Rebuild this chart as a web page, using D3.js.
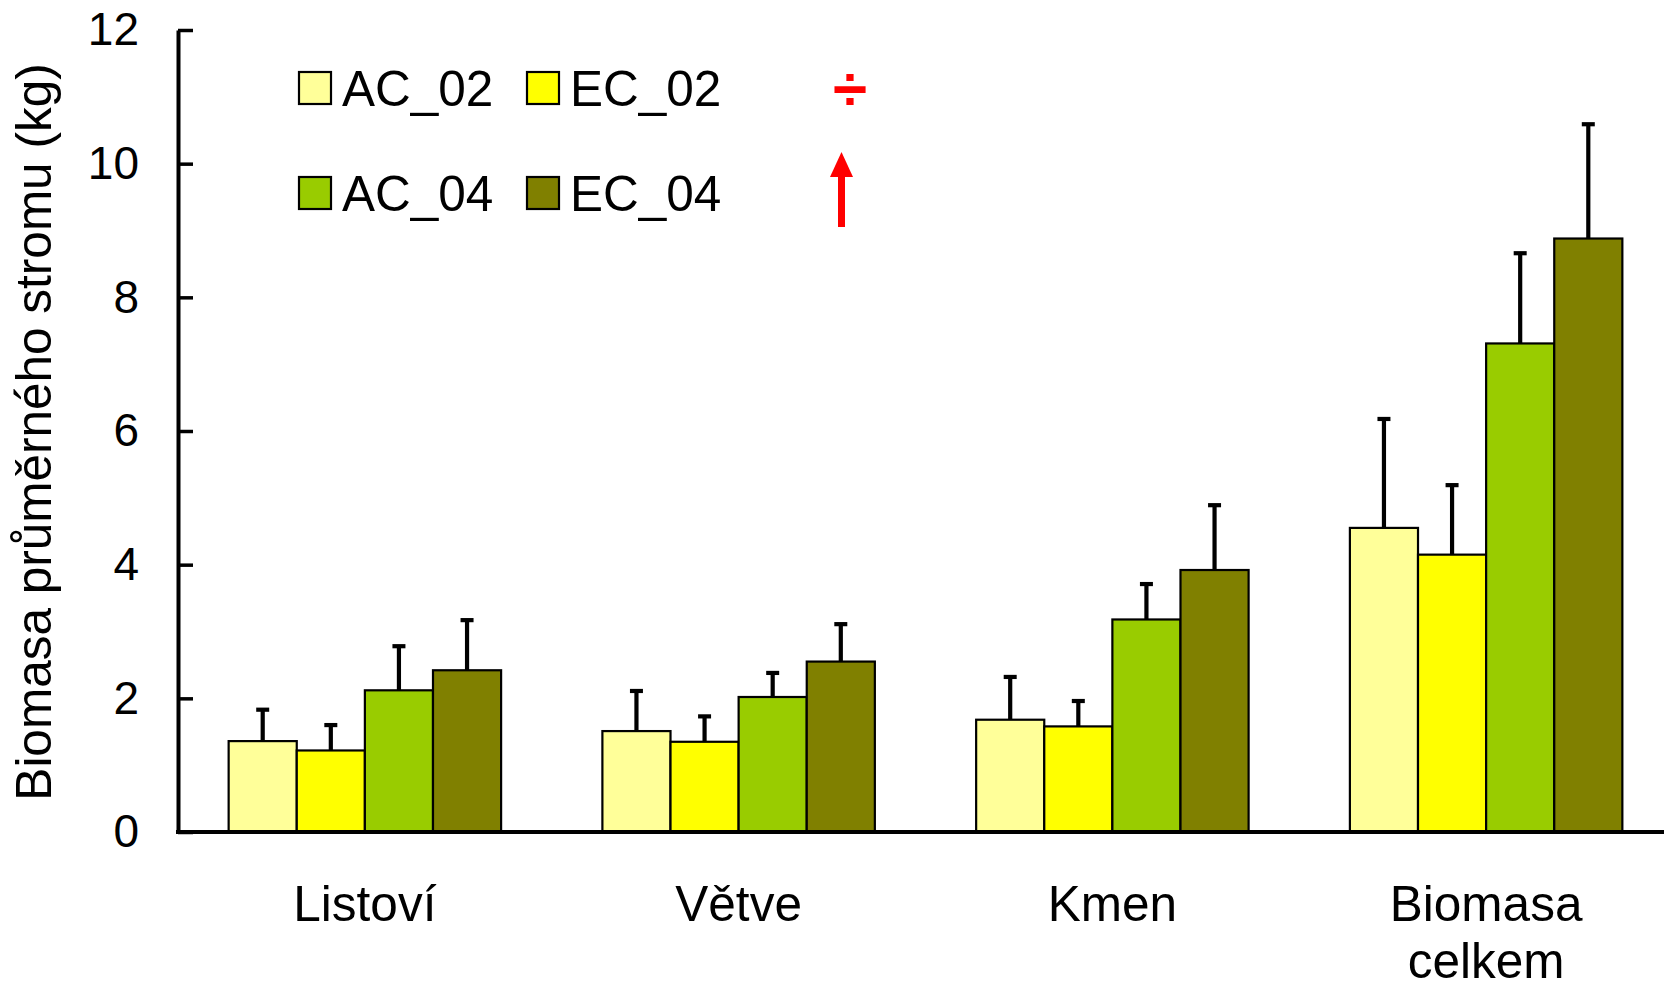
<!DOCTYPE html>
<html>
<head>
<meta charset="utf-8">
<script src="https://cdn.jsdelivr.net/npm/d3@7"></script>
<style>
  html, body { margin: 0; padding: 0; background: #fff; }
  svg { display: block; font-family: "Liberation Sans", Arial, sans-serif; }
</style>
</head>
<body>
<svg id="chart" width="1664" height="985"></svg>
<script>
// Biomass of the average tree (kg) by component
const categories = ["Listoví", "Větve", "Kmen", "Biomasa celkem"];
const seriesNames = ["AC_02", "EC_02", "AC_04", "EC_04"];
const seriesColors = ["#FFFF99", "#FFFF00", "#99CC00", "#808000"];

const valuesAC02 = [1.36, 1.51, 1.68, 4.55];
const valuesEC02 = [1.22, 1.35, 1.58, 4.15];
const valuesAC04 = [2.12, 2.02, 3.18, 7.31];
const valuesEC04 = [2.42, 2.55, 3.92, 8.88];

const errAC02 = [0.47, 0.60, 0.64, 1.63];
const errEC02 = [0.38, 0.38, 0.38, 1.04];
const errAC04 = [0.66, 0.36, 0.53, 1.35];
const errEC04 = [0.75, 0.56, 0.97, 1.71];

const yTicks = [0, 2, 4, 6, 8, 10, 12];

const seriesValues = [valuesAC02, valuesEC02, valuesAC04, valuesEC04];
const seriesErrors = [errAC02, errEC02, errAC04, errEC04];

const svg = d3.select("#chart");

const x0 = 178, x1 = 1673, yBase = 832, yTop = 30;

const x = d3.scaleBand().domain(categories).range([x0, x1])
  .paddingInner(0.271).paddingOuter(0.1355);
const xs = d3.scaleBand().domain(seriesNames).range([0, x.bandwidth()]).padding(0);
const y = d3.scaleLinear().domain([0, 12]).range([yBase, yTop]);

// bars + error bars
const rows = [];
categories.forEach((c, ci) => {
  seriesNames.forEach((s, si) => {
    rows.push({ cat: c, ser: s, si, v: seriesValues[si][ci], e: seriesErrors[si][ci] });
  });
});

const g = svg.append("g");
g.selectAll("rect.bar").data(rows).join("rect")
  .attr("class", "bar")
  .attr("x", d => x(d.cat) + xs(d.ser))
  .attr("y", d => y(d.v))
  .attr("width", xs.bandwidth())
  .attr("height", d => y(0) - y(d.v))
  .attr("fill", d => seriesColors[d.si])
  .attr("stroke", "#000")
  .attr("stroke-width", 2.2);

const cx = d => x(d.cat) + xs(d.ser) + xs.bandwidth() / 2;
g.selectAll("line.err").data(rows).join("line")
  .attr("class", "err")
  .attr("x1", cx).attr("x2", cx)
  .attr("y1", d => y(d.v)).attr("y2", d => y(d.v + d.e))
  .attr("stroke", "#000").attr("stroke-width", 4.2);
g.selectAll("line.cap").data(rows).join("line")
  .attr("class", "cap")
  .attr("x1", d => cx(d) - 6.5).attr("x2", d => cx(d) + 6.5)
  .attr("y1", d => y(d.v + d.e)).attr("y2", d => y(d.v + d.e))
  .attr("stroke", "#000").attr("stroke-width", 4.2);

// y axis with inward ticks
const yAxis = d3.axisLeft(y).tickValues(yTicks).tickFormat(d3.format("d"))
  .tickSizeInner(-15).tickSizeOuter(0).tickPadding(39);
const ya = svg.append("g").attr("transform", `translate(${x0},0)`).call(yAxis);
ya.select(".domain").attr("stroke", "#000").attr("stroke-width", 4);
ya.selectAll(".tick line").attr("stroke", "#000").attr("stroke-width", 3.5);
ya.selectAll(".tick text").attr("font-size", 46).attr("fill", "#000")
  .attr("font-family", "Liberation Sans, Arial, sans-serif");

// x axis baseline
svg.append("line").attr("x1", x0 - 2).attr("x2", 1664)
  .attr("y1", yBase).attr("y2", yBase)
  .attr("stroke", "#000").attr("stroke-width", 4);

// category labels
const lab = svg.append("g").selectAll("text").data(categories).join("text")
  .attr("x", d => x(d) + x.bandwidth() / 2)
  .attr("y", 921)
  .attr("text-anchor", "middle")
  .attr("font-size", 49.5);
lab.each(function (d) {
  const words = d.split(" ");
  d3.select(this).selectAll("tspan").data(words).join("tspan")
    .attr("x", x(d) + x.bandwidth() / 2)
    .attr("dy", (w, i) => i === 0 ? 0 : 57)
    .text(w => w);
});

// y title
svg.append("text")
  .attr("transform", "translate(51,432) rotate(-90)")
  .attr("text-anchor", "middle")
  .attr("font-size", 49.5)
  .text("Biomasa průměrného stromu (kg)");

// legend
const legPos = [[299, 72], [527, 72], [299, 177], [527, 177]];
const leg = svg.append("g").selectAll("g").data(seriesNames).join("g")
  .attr("transform", (d, i) => `translate(${legPos[i][0]},${legPos[i][1]})`);
leg.append("rect").attr("width", 32).attr("height", 32)
  .attr("fill", (d, i) => seriesColors[i]).attr("stroke", "#000").attr("stroke-width", 2.2);
leg.append("text").attr("x", 43).attr("y", 34).attr("font-size", 49.5).text(d => d);

// red markers
svg.append("text")
  .attr("x", 850).attr("y", 110)
  .attr("text-anchor", "middle")
  .attr("font-size", 62).attr("font-weight", "bold")
  .attr("fill", "#FF0000")
  .text("÷");

const ax = 841.5;
svg.append("line").attr("x1", ax).attr("x2", ax).attr("y1", 170).attr("y2", 227)
  .attr("stroke", "#FF0000").attr("stroke-width", 7);
svg.append("path")
  .attr("d", `M${ax},152 L${ax - 11.5},177 L${ax + 11.5},177 Z`)
  .attr("fill", "#FF0000");
</script>
</body>
</html>
